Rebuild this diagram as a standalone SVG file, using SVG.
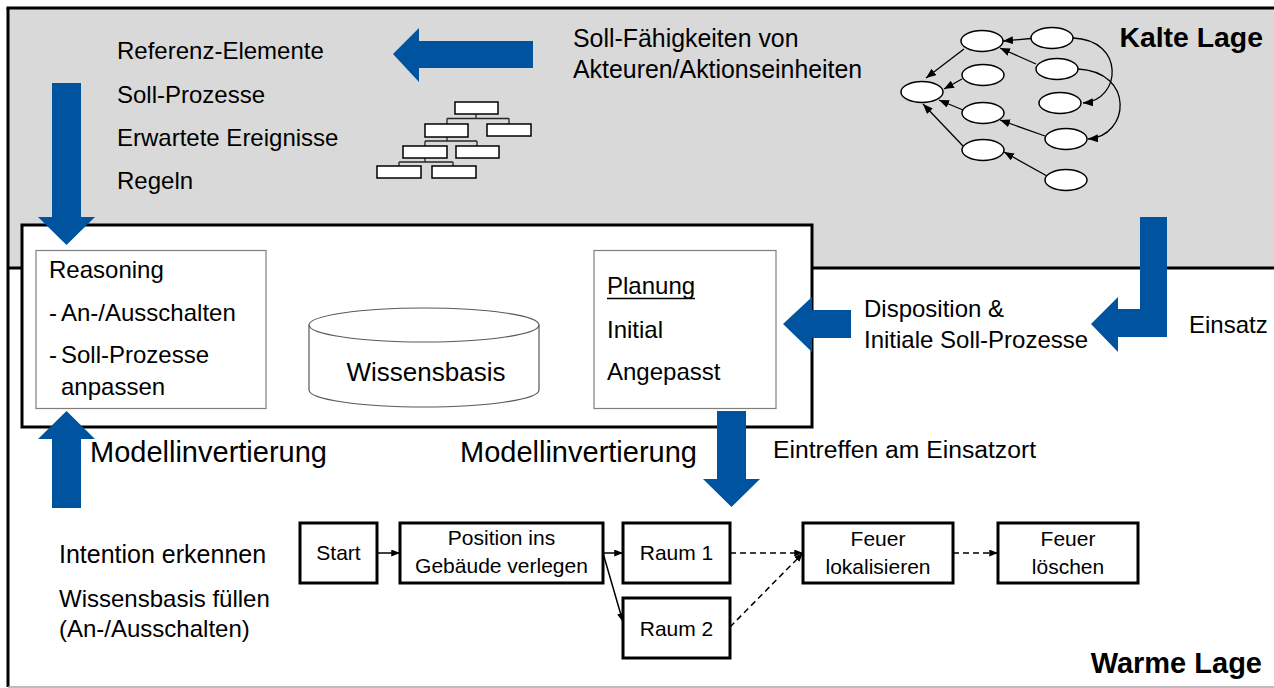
<svg xmlns="http://www.w3.org/2000/svg" width="1274" height="688" viewBox="0 0 1274 688">
<style>
.t{font-family:"Liberation Sans",Arial,sans-serif;font-size:24px;fill:#000}
.m{font-size:29px}
.p{font-size:21px;text-anchor:middle}
.b{font-weight:bold;font-size:28px;text-anchor:end}
.blue{fill:#00539F}
.ell{fill:#fff;stroke:#000;stroke-width:1.5}
.gl{fill:none;stroke:#000;stroke-width:1.3}
.pb{fill:#fff;stroke:#000;stroke-width:3}
.pc{fill:none;stroke:#000;stroke-width:1.5}
.dash{stroke-dasharray:6 4}
.ob{fill:#fff;stroke:#000;stroke-width:1.5}
.ol{fill:none;stroke:#262626;stroke-width:1.3}
</style>
<defs>
<marker id="ah" viewBox="0 0 10 8" refX="10" refY="4" markerWidth="10" markerHeight="8" markerUnits="userSpaceOnUse" orient="auto"><path d="M0,0 L10,4 L0,8 z" fill="#000"/></marker>
<marker id="ap" viewBox="0 0 10 8" refX="10" refY="4" markerWidth="9" markerHeight="7" markerUnits="userSpaceOnUse" orient="auto"><path d="M0,0 L10,4 L0,8 z" fill="#000"/></marker>
</defs>
<rect width="1274" height="688" fill="#fff"/>
<g id="regions">
<rect x="8" y="8" width="1290" height="260" fill="#D9D9D9"/>
<line x1="6.5" y1="8" x2="1290" y2="8" stroke="#000" stroke-width="3"/>
<line x1="8" y1="8" x2="8" y2="687" stroke="#000" stroke-width="3"/>
<line x1="8" y1="268" x2="1290" y2="268" stroke="#000" stroke-width="3"/>
<line x1="8" y1="687" x2="1290" y2="687" stroke="#A6A6A6" stroke-width="1.5"/>
<text class="t b" x="1263" y="47" style="font-size:28.4px">Kalte Lage</text>
<text class="t b" x="1262" y="673" style="font-size:29px">Warme Lage</text>
</g>
<g id="kalte-texts">
<text class="t" x="117" y="59">Referenz-Elemente</text>
<text class="t" x="117" y="103">Soll-Prozesse</text>
<text class="t" x="117" y="146">Erwartete Ereignisse</text>
<text class="t" x="117" y="189">Regeln</text>
<text class="t" x="573" y="47" style="font-size:24.9px">Soll-Fähigkeiten von</text>
<text class="t" x="573" y="78" style="font-size:24.9px">Akteuren/Aktionseinheiten</text>
</g>
<g id="orgchart">
<path class="ol" d="M476,114 V118.5 M447,118.5 H509 M447,118.5 V124 M509,118.5 V124 M447,137 V141 M425,141 H477 M425,141 V146 M477,141 V146 M425,158 V162 M399,162 H453 M399,162 V166 M453,162 V166"/>
<rect class="ob" x="455" y="102" width="43" height="12"/>
<rect class="ob" x="425" y="124" width="43" height="13"/>
<rect class="ob" x="487" y="124" width="44" height="12"/>
<rect class="ob" x="403" y="146" width="44" height="12"/>
<rect class="ob" x="456" y="146" width="43" height="12"/>
<rect class="ob" x="377" y="166" width="44" height="12"/>
<rect class="ob" x="432" y="166" width="44" height="12"/>
</g>
<g id="graph">
<g id="graph-edges">
<line class="gl" x1="1031" y1="38.5" x2="1003" y2="41" marker-end="url(#ah)"/>
<line class="gl" x1="1036" y1="64" x2="1000" y2="48" marker-end="url(#ah)"/>
<line class="gl" x1="964" y1="49" x2="926" y2="78" marker-end="url(#ah)"/>
<line class="gl" x1="962" y1="79" x2="944" y2="89" marker-end="url(#ah)"/>
<line class="gl" x1="963" y1="110" x2="939" y2="100" marker-end="url(#ah)"/>
<line class="gl" x1="963" y1="146" x2="923" y2="104" marker-end="url(#ah)"/>
<line class="gl" x1="1045" y1="136" x2="1000" y2="120" marker-end="url(#ah)"/>
<line class="gl" x1="1047" y1="176" x2="1004" y2="152" marker-end="url(#ah)"/>
<path class="gl" d="M1073,38 C1125,40 1122,100 1083,103" marker-end="url(#ah)"/>
<path class="gl" d="M1078,69 C1135,72 1130,136 1088,139" marker-end="url(#ah)"/>
</g>
<ellipse class="ell" cx="982" cy="41" rx="21" ry="10.5"/>
<ellipse class="ell" cx="1052" cy="38" rx="21" ry="10.5"/>
<ellipse class="ell" cx="1057" cy="69" rx="21" ry="10.5"/>
<ellipse class="ell" cx="983" cy="75" rx="21" ry="10.5"/>
<ellipse class="ell" cx="922" cy="92" rx="21" ry="10.5"/>
<ellipse class="ell" cx="1060" cy="103" rx="21" ry="10.5"/>
<ellipse class="ell" cx="983" cy="113" rx="21" ry="10.5"/>
<ellipse class="ell" cx="1066" cy="139" rx="21" ry="10.5"/>
<ellipse class="ell" cx="983" cy="150" rx="21" ry="10.5"/>
<ellipse class="ell" cx="1066" cy="180" rx="21" ry="10.5"/>
</g>
<g id="inner">
<rect x="22" y="225" width="790" height="202" fill="#fff" stroke="#000" stroke-width="3"/>
</g>
<g id="reasoning">
<rect x="36" y="250.5" width="230" height="158" fill="#fff" stroke="#7F7F7F" stroke-width="1.2"/>
<text class="t" x="49" y="278">Reasoning</text>
<text class="t" x="49" y="321">-</text><text class="t" x="61" y="321">An-/Ausschalten</text>
<text class="t" x="49" y="363">-</text><text class="t" x="61" y="363">Soll-Prozesse</text>
<text class="t" x="61" y="395">anpassen</text>
</g>
<g id="wissensbasis">
<path d="M309,325 V390 A115,17 0 0 0 539,390 V325" fill="#fff" stroke="#595959" stroke-width="1.2"/>
<ellipse cx="424" cy="325" rx="115" ry="17" fill="#fff" stroke="#595959" stroke-width="1.2"/>
<text class="t" x="426" y="381" text-anchor="middle" style="font-size:26px">Wissensbasis</text>
</g>
<g id="planung">
<rect x="594" y="250.5" width="182" height="158" fill="#fff" stroke="#7F7F7F" stroke-width="1.2"/>
<text class="t" x="607" y="294">Planung</text>
<line x1="607" y1="298.5" x2="695" y2="298.5" stroke="#000" stroke-width="1.5"/>
<text class="t" x="607" y="338">Initial</text>
<text class="t" x="607" y="380">Angepasst</text>
</g>
<g id="labels">
<text class="t" x="864" y="317">Disposition &amp;</text>
<text class="t" x="864" y="348">Initiale Soll-Prozesse</text>
<text class="t" x="1189" y="333">Einsatz</text>
<text class="t m" x="90" y="462">Modellinvertierung</text>
<text class="t m" x="460" y="462">Modellinvertierung</text>
<text class="t" x="773" y="458" style="font-size:24.7px">Eintreffen am Einsatzort</text>
<text class="t" x="59" y="563" style="font-size:25px">Intention erkennen</text>
<text class="t" x="59" y="607">Wissensbasis füllen</text>
<text class="t" x="59" y="637">(An-/Ausschalten)</text>
</g>
<g id="blue-arrows">
<polygon class="blue" points="393,54 419,28 419,41 533,41 533,68 419,68 419,82"/>
<polygon class="blue" points="52,83 81,83 81,217 95,217 66.5,245 38,217 52,217"/>
<polygon class="blue" points="66.5,411 95,439 81,439 81,508 52,508 52,439 38,439"/>
<polygon class="blue" points="717,411 746,411 746,479 760,479 731.5,507 703,479 717,479"/>
<polygon class="blue" points="783,324 812,297 812,310 851,310 851,338 812,338 812,352"/>
<polygon class="blue" points="1140,217 1167,217 1167,337 1118,337 1118,352 1091,324 1118,297 1118,309 1140,309"/>
</g>
<g id="connectors">
<line class="pc" x1="377" y1="553" x2="400" y2="553" marker-end="url(#ap)"/>
<line class="pc" x1="603" y1="553" x2="623" y2="553" marker-end="url(#ap)"/>
<line class="pc" x1="603" y1="553" x2="623" y2="622" marker-end="url(#ap)"/>
<line class="pc dash" x1="730" y1="553" x2="803" y2="553" marker-end="url(#ap)"/>
<line class="pc dash" x1="730" y1="627" x2="803" y2="553" marker-end="url(#ap)"/>
<line class="pc dash" x1="953" y1="553" x2="998" y2="553" marker-end="url(#ap)"/>
</g>
<g id="n-start"><rect class="pb" x="300" y="523" width="77" height="60"/><text class="t p" x="338.5" y="560">Start</text></g>
<g id="n-position"><rect class="pb" x="400" y="523" width="203" height="60"/><text class="t p" x="501.5" y="545">Position ins</text><text class="t p" x="501.5" y="573">Gebäude verlegen</text></g>
<g id="n-raum1"><rect class="pb" x="623" y="523" width="107" height="60"/><text class="t p" x="676.5" y="560">Raum 1</text></g>
<g id="n-raum2"><rect class="pb" x="623" y="598" width="107" height="60"/><text class="t p" x="676.5" y="636">Raum 2</text></g>
<g id="n-lokalisieren"><rect class="pb" x="803" y="523" width="150" height="60"/><text class="t p" x="878" y="546">Feuer</text><text class="t p" x="878" y="574">lokalisieren</text></g>
<g id="n-loeschen"><rect class="pb" x="998" y="523" width="140" height="60"/><text class="t p" x="1068" y="546">Feuer</text><text class="t p" x="1068" y="574">löschen</text></g>
</svg>
